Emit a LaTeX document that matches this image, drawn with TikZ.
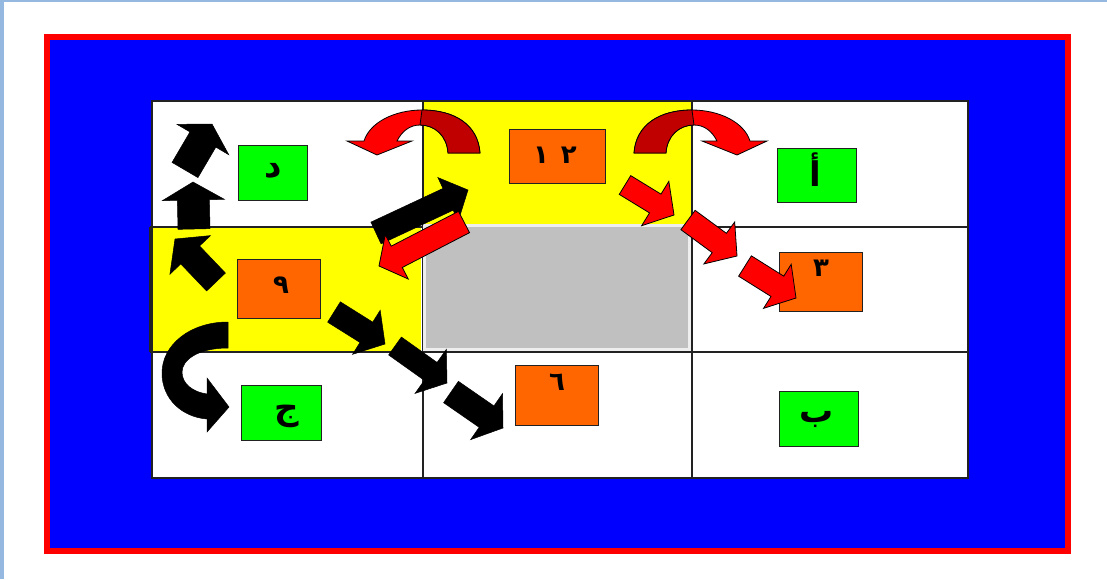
\documentclass[tikz,border=0pt]{standalone}
\usepackage{fontspec}
\usetikzlibrary{calc}
\newfontfamily\arabicfont[Script=Arabic]{DejaVu Sans}
\definecolor{lblue}{HTML}{95B8E0}
\definecolor{dkred}{HTML}{C00000}
\definecolor{orng}{HTML}{FF6600}
\definecolor{grn}{HTML}{00FF00}
\definecolor{yel}{HTML}{FFFF00}
\definecolor{gry}{HTML}{C0C0C0}
\definecolor{gryedge}{HTML}{EEEEEE}
\definecolor{blu}{HTML}{0000FF}
\definecolor{rd}{HTML}{FF0000}
\definecolor{gline}{HTML}{222222}
\tikzset{
  redarr/.style={fill=rd, draw=black, line width=0.8pt, line join=miter},
  darkarr/.style={fill=dkred, draw=black, line width=0.8pt},
  blkarr/.style={fill=black, draw=black, line width=0.5pt, line join=miter},
  gridln/.style={draw=gline, line width=1.3pt},
  gbox/.style={draw=gline, line width=1pt, fill=grn, inner sep=0pt},
  obox/.style={draw=gline, line width=1pt, fill=orng, inner sep=0pt},
  lbl/.style={inner sep=0pt, font=\arabicfont\bfseries\fontsize{34}{34}\selectfont},
  dlbl/.style={inner sep=0pt, font=\arabicfont\bfseries\fontsize{26}{26}\selectfont}
}
\newcommand{\blockarrow}[6]{%
  \path ($(#3)!#6!(#2)$) coordinate (ba-H);
  \filldraw[#1] ($(#2)!#4!90:(#3)$) -- ($(ba-H)!#4!90:(#3)$) -- ($(ba-H)!#5!90:(#3)$) -- (#3)
     -- ($(ba-H)!#5!-90:(#3)$) -- ($(ba-H)!#4!-90:(#3)$) -- ($(#2)!#4!-90:(#3)$) -- cycle;}
\newcommand{\curvedred}{%
  \filldraw[redarr] (480,153) .. controls (478,125) and (455,110) .. (422,110)
     .. controls (395,110) and (370,122) .. (364,141) -- (347,141) -- (377,155) -- (412,141) -- (397,141)
     .. controls (402,131) and (410,125) .. (420,125) .. controls (435,125) and (447,136) .. (448,153) -- cycle;
  \filldraw[darkarr] (480,153) .. controls (478,125) and (455,110) .. (422,110) -- (420,125)
     .. controls (435,125) and (447,136) .. (448,153) -- cycle;}
\begin{document}
\begin{tikzpicture}[x=1pt,y=-1pt]
\useasboundingbox (0,0) rectangle (1107,579);
\fill[white] (0,0) rectangle (1107,579);
\fill[lblue] (0,0) rectangle (4,579);
\fill[lblue] (0,0) rectangle (1107,1.5);
\filldraw[draw=rd, line width=6pt, fill=blu] (47,37) rectangle (1068,551);
% cells
\fill[white] (152,101) rectangle (968,478);
\fill[yel] (423,101) rectangle (692,226);
\fill[yel] (150,227) rectangle (421,352);
\draw[gridln] (152,101) rectangle (968,478);
\draw[gridln] (423,101) -- (423,478);
\draw[gridln] (692,101) -- (692,478);
\draw[gridln] (150,227) -- (968,227);
\draw[gridln] (150,352) -- (968,352);
\draw[gridln] (150,227) -- (150,352);
\filldraw[fill=gry, draw=gryedge, line width=3pt] (424.5,225.5) rectangle (689.5,349.5);
% boxes
\node[gbox, minimum width=69pt, minimum height=55pt] (bdal) at (272.5,172.5) {};
\node[obox, minimum width=96pt, minimum height=54pt] (b12) at (557,156) {};
\node[gbox, minimum width=79pt, minimum height=54pt] (balif) at (816.5,175) {};
\node[obox, minimum width=83pt, minimum height=59pt] (b9) at (278.5,288.5) {};
\node[obox, minimum width=83pt, minimum height=59pt] (b3) at (820.5,281.5) {};
\node[gbox, minimum width=80pt, minimum height=55pt] (bjim) at (281,412.5) {};
\node[obox, minimum width=83pt, minimum height=60pt] (b6) at (556.5,395) {};
\node[gbox, minimum width=79pt, minimum height=55pt] (bba) at (818.5,418.5) {};
% labels
\node[lbl] (tdal) at (273,171) {د};
\node[dlbl] (t12) at (555,155) {١\kern12pt ٢};
\node[lbl] (talif) at (815,170) {أ};
\node[dlbl] (t9) at (281,285) {٩};
\node[dlbl] (t3) at (821,268) {٣};
\node[lbl] (tjim) at (287,416) {ج};
\node[dlbl] (t6) at (557,382) {٦};
\node[lbl] (tba) at (817,419) {ب};
% arrow end points
\coordinate (r1a) at (625,185); \coordinate (r1b) at (674,215);
\coordinate (r2a) at (688,220); \coordinate (r2b) at (737,256);
\coordinate (r3a) at (745,266); \coordinate (r3b) at (796,298);
\coordinate (rla) at (464,222); \coordinate (rlb) at (379,266);
\coordinate (bua) at (376,233); \coordinate (bub) at (468,190);
\coordinate (b1a) at (185,170); \coordinate (b1b) at (212,124);
\coordinate (b2a) at (194,229); \coordinate (b2b) at (193,182);
\coordinate (b3a) at (216,282); \coordinate (b3b) at (175,239);
\coordinate (b4a) at (334,312); \coordinate (b4b) at (385,344);
\coordinate (b5a) at (395,346); \coordinate (b5b) at (447,383);
\coordinate (b6a) at (451,392); \coordinate (b6b) at (503,428);
% straight arrows
\blockarrow{blkarr}{b1a}{b1b}{15pt}{30pt}{18pt}
\blockarrow{blkarr}{b2a}{b2b}{16pt}{31pt}{18pt}
\blockarrow{blkarr}{b3a}{b3b}{13pt}{28pt}{22pt}
\blockarrow{blkarr}{b4a}{b4b}{12pt}{26pt}{22pt}
\blockarrow{blkarr}{b5a}{b5b}{11pt}{27pt}{20pt}
\blockarrow{blkarr}{b6a}{b6b}{13pt}{28pt}{20pt}
\blockarrow{blkarr}{bua}{bub}{12pt}{24pt}{22pt}
\blockarrow{redarr}{rla}{rlb}{12pt}{25pt}{20pt}
\blockarrow{redarr}{r1a}{r1b}{11pt}{26pt}{22pt}
\blockarrow{redarr}{r2a}{r2b}{12pt}{26pt}{22pt}
\blockarrow{redarr}{r3a}{r3b}{12pt}{26pt}{22pt}
% curved arrows
\curvedred
\begin{scope}[xshift=1114pt, xscale=-1]
\curvedred
\end{scope}
\filldraw[blkarr] (228,322) .. controls (190,322) and (162,345) .. (162,373)
   .. controls (162,399) and (182,417) .. (207,419) -- (207,432) -- (229,407) -- (207,378) -- (207,394)
   .. controls (193,392) and (182,384) .. (182,372) .. controls (182,360) and (198,348) .. (228,348) -- cycle;
\end{tikzpicture}
\end{document}
